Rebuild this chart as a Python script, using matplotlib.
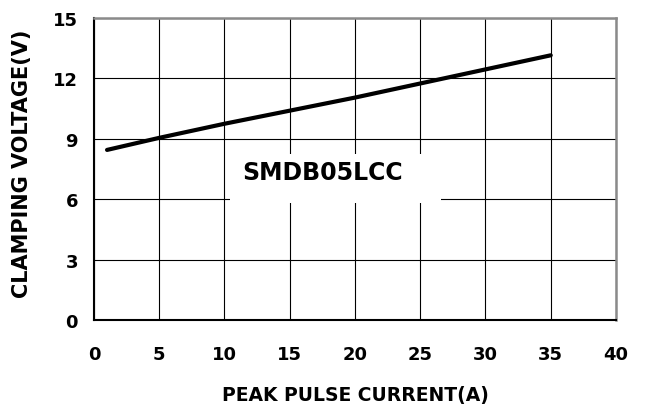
import numpy as np
import matplotlib
matplotlib.use("Agg")
from matplotlib import pyplot as plt
from matplotlib.patches import Rectangle

# values
current = [1, 5, 10, 15, 20, 25, 30, 35]
voltage = [8.45, 9.05, 9.75, 10.4, 11.05, 11.75, 12.45, 13.15]

x_ticks = [0, 5, 10, 15, 20, 25, 30, 35, 40]
y_ticks = [0, 3, 6, 9, 12, 15]

LABEL = "SMDB05LCC"
LABEL_POS = (17.5, 7.35)
BOX = (10.4, 5.8, 16.2, 2.45)   # x, y, width, height of white patch

plt.rcParams['font.family'] = ['DejaVu Sans']
plt.rcParams['font.weight'] = 'bold'

fig = plt.figure(figsize=(6.46, 4.10), dpi=100)
ax = fig.add_axes([0.1455, 0.217, 0.808, 0.7365])

ax.plot(current, voltage, color='black', lw=3.0, solid_capstyle='round', zorder=4)

ax.set_xlim(0, 40)
ax.set_ylim(0, 15)
ax.set_xticks(x_ticks)
ax.set_yticks(y_ticks)
ax.tick_params(axis='both', length=0, labelsize=13)
ax.tick_params(axis='x', pad=18)
ax.tick_params(axis='y', pad=11.5)
for lab in ax.get_xticklabels() + ax.get_yticklabels():
    lab.set_fontweight('bold')

ax.grid(True, color='black', lw=0.8, zorder=1)
ax.set_axisbelow(True)

ax.add_patch(Rectangle((BOX[0], BOX[1]), BOX[2], BOX[3],
                       facecolor='white', edgecolor='none', zorder=2))
ax.text(LABEL_POS[0], LABEL_POS[1], LABEL, ha='center', va='center',
        fontsize=17, fontweight='bold', zorder=3)

for side in ['left', 'bottom']:
    ax.spines[side].set_color('black')
    ax.spines[side].set_linewidth(1.5)
for side in ['top', 'right']:
    ax.spines[side].set_color('#8a8a8a')
    ax.spines[side].set_linewidth(1.8)

ax.set_xlabel("PEAK PULSE CURRENT(A)", fontsize=13.5, fontweight='bold', va='center')
ax.set_ylabel("CLAMPING VOLTAGE(V)", fontsize=15, fontweight='bold', va='center')
ax.xaxis.set_label_coords(0.5, -0.248)
ax.yaxis.set_label_coords(-0.138, 0.52)

fig.savefig("out.png", dpi=100)
